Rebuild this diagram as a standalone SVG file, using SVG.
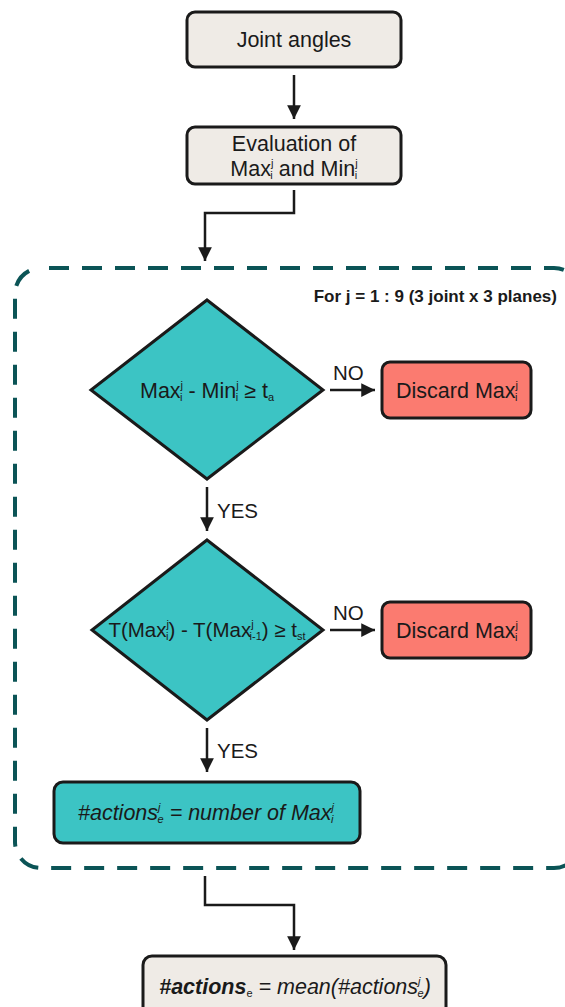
<svg xmlns="http://www.w3.org/2000/svg" width="565" height="1007" viewBox="0 0 565 1007">
<style>
.t{font-family:"Liberation Sans",Arial,sans-serif;font-size:21.5px;fill:#1a1a1a}
.s{font-size:11px}
.beige{fill:#efebe6;stroke:#1a1a1a;stroke-width:3}
.teal{fill:#3cc4c4;stroke:#1a1a1a;stroke-width:3}
.red{fill:#fb7b70;stroke:#1a1a1a;stroke-width:3}
.ln{fill:none;stroke:#1a1a1a;stroke-width:2.5}
.lb{font-size:20.5px}
</style>
<defs>
<marker id="ah" viewBox="0 0 10 10" refX="10" refY="5" markerWidth="5.5" markerHeight="5.5" orient="auto" markerUnits="strokeWidth">
<path d="M0,0 L10,5 L0,10 Z" fill="#1a1a1a"/>
</marker>
</defs>
<rect x="0" y="0" width="565" height="1007" fill="#ffffff"/>

<g id="loop">
<rect x="15" y="268" width="565" height="600" rx="26" fill="none" stroke="#0b5456" stroke-width="4" stroke-dasharray="20 13" stroke-dashoffset="-8"/>
<text class="t" x="557" y="302" text-anchor="end" style="font-size:17px;font-weight:bold">For j = 1 : 9 (3 joint x 3 planes)</text>
</g>

<g id="connectors">
<line class="ln" x1="294" y1="75" x2="294" y2="119" marker-end="url(#ah)"/>
<polyline class="ln" points="294,190 294,213 205,213 205,261" marker-end="url(#ah)"/>
<line class="ln" x1="330" y1="390" x2="375" y2="390" marker-end="url(#ah)"/>
<text class="t lb" x="333" y="380">NO</text>
<line class="ln" x1="207" y1="487" x2="207" y2="531" marker-end="url(#ah)"/>
<text class="t lb" x="217" y="518">YES</text>
<line class="ln" x1="330" y1="630" x2="375" y2="630" marker-end="url(#ah)"/>
<text class="t lb" x="333" y="620">NO</text>
<line class="ln" x1="207" y1="728" x2="207" y2="772" marker-end="url(#ah)"/>
<text class="t lb" x="217" y="758">YES</text>
<polyline class="ln" points="205,876 205,905 294,905 294,950" marker-end="url(#ah)"/>
</g>

<g id="joint-angles">
<rect class="beige" x="187" y="12" width="214" height="55" rx="8"/>
<text class="t" x="294" y="47" text-anchor="middle">Joint angles</text>
</g>

<g id="evaluation">
<rect class="beige" x="187" y="127" width="214" height="57" rx="8"/>
<text class="t" x="294" y="151" text-anchor="middle">Evaluation of</text>
<text class="t" x="294" y="176" text-anchor="middle">Max<tspan class="s" dy="-9">j</tspan><tspan class="s" dx="-3" dy="12">i</tspan><tspan dy="-3"> and Min</tspan><tspan class="s" dy="-9">j</tspan><tspan class="s" dx="-3" dy="12">i</tspan></text>
</g>

<g id="decision1">
<polygon class="teal" points="207,300 323,390 207,479 91,390"/>
<text class="t" x="207" y="398" text-anchor="middle">Max<tspan class="s" dy="-9">j</tspan><tspan class="s" dx="-3" dy="12">i</tspan><tspan dy="-3"> - Min</tspan><tspan class="s" dy="-9">j</tspan><tspan class="s" dx="-3" dy="12">i</tspan><tspan dy="-3"> ≥ t</tspan><tspan class="s" dy="3">a</tspan></text>
</g>

<g id="discard1">
<rect class="red" x="382" y="362" width="149" height="56" rx="8"/>
<text class="t" x="457" y="398" text-anchor="middle">Discard Max<tspan class="s" dy="-9">j</tspan><tspan class="s" dx="-3" dy="12">i</tspan></text>
</g>

<g id="decision2">
<polygon class="teal" points="207,540 323,630 207,720 92,630"/>
<text class="t" x="207" y="637" text-anchor="middle" style="font-size:20.5px">T(Max<tspan class="s" dy="-9">j</tspan><tspan class="s" dx="-3" dy="12">i</tspan><tspan dy="-3">) - T(Max</tspan><tspan class="s" dy="-9">j</tspan><tspan class="s" dx="-4" dy="12">i-1</tspan><tspan dy="-3">) ≥ t</tspan><tspan class="s" dy="3">st</tspan></text>
</g>

<g id="discard2">
<rect class="red" x="382" y="602" width="149" height="56" rx="8"/>
<text class="t" x="457" y="638" text-anchor="middle">Discard Max<tspan class="s" dy="-9">j</tspan><tspan class="s" dx="-3" dy="12">i</tspan></text>
</g>

<g id="count">
<rect class="teal" x="54" y="782" width="306" height="61" rx="9"/>
<text class="t" x="206" y="820" text-anchor="middle" style="font-style:italic">#actions<tspan class="s" dy="-9">j</tspan><tspan class="s" dx="-3" dy="12">e</tspan><tspan dy="-3"> = number of Max</tspan><tspan class="s" dy="-9">j</tspan><tspan class="s" dx="-3" dy="12">i</tspan></text>
</g>

<g id="result">
<rect class="beige" x="143" y="956" width="303" height="60" rx="9"/>
<text class="t" x="295" y="994" text-anchor="middle"><tspan style="font-weight:bold;font-style:italic">#actions</tspan><tspan class="s" dy="3">e</tspan><tspan dy="-3" style="font-style:italic"> = mean(#actions</tspan><tspan class="s" style="font-style:italic" dy="-9">j</tspan><tspan class="s" style="font-style:italic" dx="-3" dy="12">e</tspan><tspan dy="-3" style="font-style:italic">)</tspan></text>
</g>
</svg>
